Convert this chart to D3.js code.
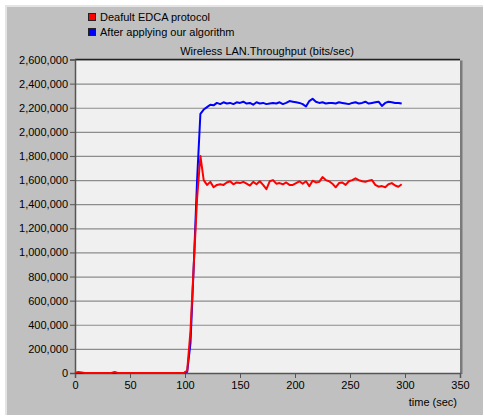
<!DOCTYPE html>
<html>
<head>
<meta charset="utf-8">
<script src="https://cdn.jsdelivr.net/npm/d3@7"></script>
<style>
html,body{margin:0;padding:0;background:#fff;}
svg text{font-family:Arial,"Liberation Sans",sans-serif;font-size:11px;fill:#000;}
</style>
</head>
<body>
<div id="chart"></div>
<script>
var seriesNames=["Deafult EDCA protocol","After applying our algorithm"];
var seriesColors=["#ff0000","#0000ff"];
var times=[0,3,6,9,12,15,18,21,24,27,30,33,36,39,42,45,48,51,54,57,60,63,66,69,72,75,78,81,84,87,90,93,96,99,
102,105,108,111,114,117,120,123,126,129,132,135,138,141,144,147,150,153,156,159,162,165,168,171,174,177,180,183,186,189,192,195,198,
201,204,207,210,213,216,219,222,225,228,231,234,237,240,243,246,249,252,255,258,261,264,267,270,273,276,279,282,285,288,291,294,297];
var edcaValues=[0,8000,4000,0,0,0,0,0,0,0,0,0,8000,0,0,0,0,0,0,0,0,0,0,0,0,0,0,0,0,0,0,0,0,0,
20000,350000,900000,1450000,1800000,1600000,1560000,1585000,1540000,1560000,1565000,1560000,1580000,1590000,1565000,1580000,1575000,1585000,1570000,1555000,1585000,1565000,1590000,1560000,1525000,1590000,1600000,1570000,1575000,1565000,1580000,1560000,1560000,
1575000,1590000,1570000,1590000,1550000,1595000,1580000,1585000,1625000,1600000,1590000,1570000,1540000,1575000,1580000,1560000,1590000,1600000,1615000,1600000,1590000,1585000,1595000,1600000,1560000,1545000,1550000,1540000,1565000,1575000,1555000,1545000,1565000];
var ourValues=[0,0,0,0,0,0,0,0,0,0,0,0,0,0,0,0,0,0,0,0,0,0,0,0,0,0,0,0,0,0,0,0,0,0,
10000,250000,900000,1600000,2150000,2185000,2205000,2225000,2220000,2240000,2230000,2245000,2235000,2240000,2230000,2245000,2240000,2250000,2235000,2240000,2225000,2245000,2235000,2240000,2230000,2235000,2240000,2235000,2245000,2230000,2240000,2255000,2250000,
2245000,2240000,2230000,2210000,2255000,2275000,2250000,2240000,2245000,2235000,2240000,2240000,2235000,2245000,2240000,2235000,2230000,2240000,2245000,2235000,2240000,2250000,2235000,2240000,2245000,2250000,2215000,2240000,2250000,2245000,2240000,2240000,2235000];
var xTicks=[0,50,100,150,200,250,300,350];
var yTicks=[0,200000,400000,600000,800000,1000000,1200000,1400000,1600000,1800000,2000000,2200000,2400000,2600000];

var W=484,H=416;
var plot={left:75,right:460,top:59.5,bottom:373};

var svg=d3.select("#chart").append("svg").attr("width",W).attr("height",H);

// window frame
svg.append("rect").attr("x",0).attr("y",0).attr("width",W).attr("height",H).attr("fill","#ffffff");
svg.append("rect").attr("x",5).attr("y",5).attr("width",W-6).attr("height",H-6).attr("fill","#e4e4e4");
svg.append("rect").attr("x",7).attr("y",7).attr("width",W-8).attr("height",H-8).attr("fill","#c0c0c0");

var x=d3.scaleLinear().domain([0,350]).range([plot.left,plot.right]);
var y=d3.scaleLinear().domain([0,2600000]).range([plot.bottom,plot.top]);

// plot background + shadow
svg.append("rect").attr("x",plot.right).attr("y",plot.top+1).attr("width",2.5).attr("height",plot.bottom-plot.top)
    .attr("fill","#7a7a7a");
svg.append("rect").attr("x",plot.left).attr("y",plot.top).attr("width",plot.right-plot.left).attr("height",plot.bottom-plot.top)
    .attr("fill","#f0f0f0");

// grid
svg.append("g").attr("transform","translate("+plot.left+",0)")
    .call(d3.axisRight(y).tickValues(yTicks.slice(1)).tickSize(plot.right-plot.left).tickFormat(""))
    .call(function(g){
        g.select(".domain").remove();
        g.selectAll("line").attr("stroke","#8c8c8c").attr("stroke-width",1.2);
    });
svg.append("line").attr("x1",plot.left).attr("x2",plot.right).attr("y1",plot.top).attr("y2",plot.top)
    .attr("stroke","#222").attr("stroke-width",1.5);

// axes
svg.append("g").attr("transform","translate("+plot.left+",0)")
    .call(d3.axisLeft(y).tickValues(yTicks).tickSize(5).tickPadding(2).tickFormat(d3.format(",")))
    .call(function(g){
        g.select(".domain").attr("stroke","#555").attr("stroke-width",1.5);
        g.selectAll("line").attr("stroke","#555");
        g.selectAll("text").attr("font-size",null).attr("font-family",null).attr("fill","#111");
    });
svg.append("g").attr("transform","translate(0,"+plot.bottom+")")
    .call(d3.axisBottom(x).tickValues(xTicks).tickSize(5).tickPadding(3))
    .call(function(g){
        g.select(".domain").attr("stroke","#555").attr("stroke-width",1.5);
        g.selectAll("line").attr("stroke","#555");
        g.selectAll("text").attr("font-size",null).attr("font-family",null).attr("fill","#111");
    });

// lines (blue underneath, red on top)
var series=[ourValues,edcaValues];
var colors=[seriesColors[1],seriesColors[0]];
var line=d3.line().x(function(d,i){return x(times[i]);}).y(function(d){return y(d);});
series.forEach(function(vals,k){
    svg.append("path").datum(vals).attr("d",line)
        .attr("fill","none").attr("stroke",colors[k]).attr("stroke-width",2)
        .attr("stroke-linejoin","round");
});

// title
svg.append("text").attr("x",267).attr("y",55).attr("text-anchor","middle")
    .text("Wireless LAN.Throughput (bits/sec)");
svg.append("text").attr("x",457).attr("y",406).attr("text-anchor","end").text("time (sec)");

// legend
var leg=svg.append("g").selectAll("g").data(seriesNames).enter().append("g")
    .attr("transform",function(d,i){return "translate(88,"+(13+i*15)+")";});
leg.append("rect").attr("width",7).attr("height",7).attr("x",0.5).attr("y",0.5)
    .attr("fill",function(d,i){return seriesColors[i];}).attr("stroke","#222").attr("stroke-width",1);
leg.append("text").attr("x",12).attr("y",8).text(function(d){return d;});
</script>
</body>
</html>
